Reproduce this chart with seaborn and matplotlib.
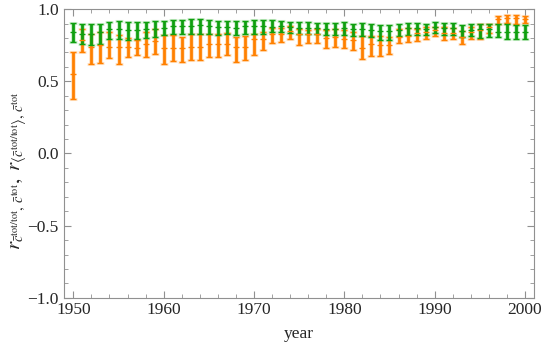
import matplotlib
matplotlib.use('Agg')
import matplotlib.pyplot as plt
import seaborn as sns
import numpy as np
from matplotlib.ticker import MultipleLocator

years = list(range(1950, 2001))

# orange series: c_tot/tot vs c_tot
orange_mid = [0.55, 0.785, 0.74, 0.75, 0.74, 0.74, 0.74, 0.73, 0.76, 0.78,
              0.73, 0.73, 0.73, 0.74, 0.74, 0.76, 0.755, 0.76, 0.74, 0.735,
              0.79, 0.79, 0.826, 0.83, 0.85, 0.83, 0.83, 0.83, 0.80, 0.81,
              0.796, 0.785, 0.734, 0.755, 0.75, 0.75, 0.808, 0.815, 0.831, 0.843,
              0.854, 0.831, 0.831, 0.81, 0.843, 0.854, 0.873, 0.928, 0.935, 0.935,
              0.93]
orange_low = [0.38, 0.70, 0.62, 0.63, 0.66, 0.62, 0.665, 0.68, 0.665, 0.69,
              0.62, 0.64, 0.635, 0.65, 0.65, 0.67, 0.665, 0.68, 0.635, 0.645,
              0.68, 0.715, 0.766, 0.773, 0.79, 0.75, 0.766, 0.766, 0.734, 0.738,
              0.73, 0.715, 0.657, 0.678, 0.678, 0.69, 0.762, 0.77, 0.78, 0.796,
              0.813, 0.785, 0.796, 0.755, 0.796, 0.796, 0.831, 0.90, 0.905, 0.90,
              0.905]
orange_high = [0.70, 0.86, 0.83, 0.84, 0.84, 0.82, 0.80, 0.785, 0.84, 0.86,
               0.82, 0.82, 0.81, 0.825, 0.825, 0.83, 0.826, 0.836, 0.81, 0.813,
               0.83, 0.84, 0.866, 0.866, 0.88, 0.86, 0.856, 0.86, 0.854, 0.859,
               0.854, 0.843, 0.813, 0.813, 0.813, 0.81, 0.863, 0.866, 0.86, 0.877,
               0.877, 0.877, 0.866, 0.85, 0.877, 0.894, 0.90, 0.951, 0.958, 0.958,
               0.951]

# green series: <c_tot/tot> vs c_tot
green_mid = [0.84, 0.83, 0.83, 0.84, 0.86, 0.86, 0.855, 0.855, 0.86, 0.86,
             0.87, 0.88, 0.88, 0.88, 0.89, 0.88, 0.875, 0.877, 0.87, 0.88,
             0.88, 0.88, 0.877, 0.88, 0.873, 0.87, 0.866, 0.866, 0.861, 0.863,
             0.866, 0.86, 0.86, 0.854, 0.85, 0.845, 0.854, 0.866, 0.866, 0.861,
             0.877, 0.866, 0.866, 0.847, 0.854, 0.863, 0.859, 0.843, 0.843, 0.843,
             0.843]
green_low = [0.77, 0.76, 0.75, 0.76, 0.79, 0.79, 0.785, 0.79, 0.80, 0.81,
             0.82, 0.825, 0.83, 0.83, 0.83, 0.83, 0.82, 0.825, 0.82, 0.825,
             0.83, 0.83, 0.84, 0.84, 0.836, 0.83, 0.83, 0.826, 0.824, 0.824,
             0.824, 0.813, 0.813, 0.808, 0.785, 0.785, 0.813, 0.819, 0.824, 0.822,
             0.836, 0.824, 0.824, 0.808, 0.813, 0.803, 0.808, 0.808, 0.796, 0.796,
             0.796]
green_high = [0.905, 0.895, 0.895, 0.90, 0.91, 0.92, 0.91, 0.91, 0.91, 0.915,
              0.917, 0.924, 0.924, 0.928, 0.928, 0.924, 0.92, 0.92, 0.917, 0.92,
              0.924, 0.924, 0.924, 0.92, 0.914, 0.914, 0.912, 0.907, 0.905, 0.907,
              0.91, 0.90, 0.905, 0.90, 0.887, 0.887, 0.896, 0.905, 0.905, 0.90,
              0.912, 0.905, 0.905, 0.891, 0.896, 0.90, 0.90, 0.896, 0.896, 0.887,
              0.887]

sns.set_style('ticks')
plt.rcParams['font.family'] = ['Liberation Serif', 'DejaVu Serif']
plt.rcParams['mathtext.fontset'] = 'stix'

orange = '#ff8000'
green = '#0f9f0f'

fig = plt.figure(figsize=(5.45, 3.5), dpi=100)
ax = fig.add_axes([0.118, 0.149, 0.861, 0.825])

def draw_bars(ax, mid, low, high, color, halo):
    mid = np.array(mid)
    err = [mid - np.array(low), np.array(high) - mid]
    # soft halo underneath
    ax.errorbar(years, mid, yerr=err, fmt='none', ecolor=halo, elinewidth=3.6,
                capsize=2.8, capthick=2.2, alpha=0.45, zorder=2)
    ax.errorbar(years, mid, yerr=err, fmt='none', ecolor=color, elinewidth=2.0,
                capsize=2.3, capthick=1.0, zorder=3)
    sns.scatterplot(x=years, y=mid, marker='_', s=22, color=color,
                    linewidth=1.0, ax=ax, zorder=4)

draw_bars(ax, orange_mid, orange_low, orange_high, orange, '#ffc890')
draw_bars(ax, green_mid, green_low, green_high, green, '#98dc98')

ax.set_xlim(1949, 2000.95)
ax.set_ylim(-1, 1)
ax.xaxis.set_major_locator(MultipleLocator(10))
ax.xaxis.set_minor_locator(MultipleLocator(2))
ax.yaxis.set_major_locator(MultipleLocator(0.5))
ax.yaxis.set_minor_locator(MultipleLocator(0.1))
ax.set_yticks([-1, -0.5, 0, 0.5, 1], ['\u22121.0', '\u22120.5', '0.0', '0.5', '1.0'])

ax.tick_params(which='both', direction='in', top=True, right=True, color='#909090',
               labelsize=12.5)
ax.tick_params(axis='x', pad=3)
ax.tick_params(axis='y', pad=4)
ax.tick_params(which='major', length=5, width=0.8)
ax.tick_params(which='minor', length=3, width=0.6)
for s in ax.spines.values():
    s.set_color('#909090')
    s.set_linewidth(0.8)

ax.set_xlabel('year', fontsize=12.5, labelpad=6)
ax.set_ylabel(r'$r_{\bar{c}^{\mathrm{tot/tot}},\,\bar{c}^{\mathrm{tot}}},\ '
              r'r_{\langle\bar{c}^{\mathrm{tot/tot}}\rangle,\,\bar{c}^{\mathrm{tot}}}$',
              fontsize=15)
ax.yaxis.set_label_coords(-0.077, 0.44)

fig.savefig('out.png', dpi=100)
